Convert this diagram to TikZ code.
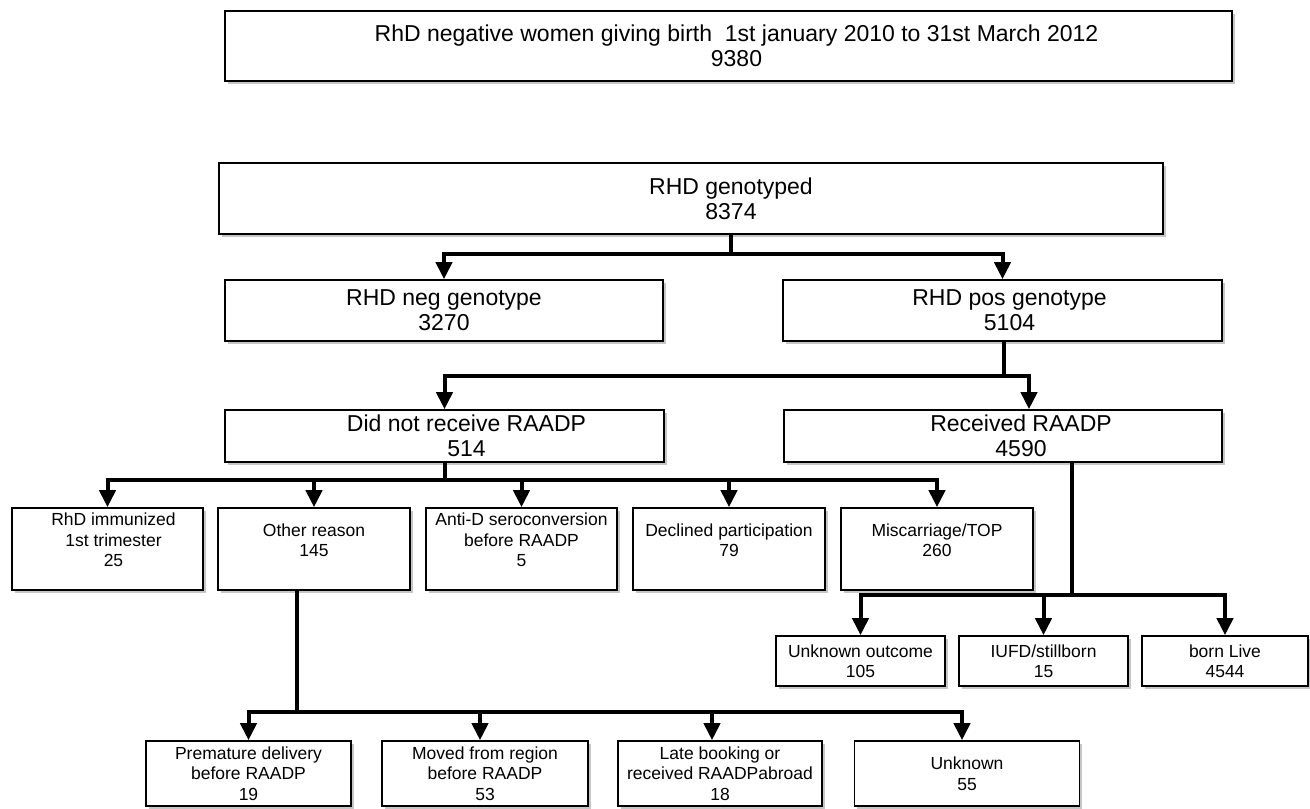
\documentclass[tikz,border=0pt]{standalone}
\usepackage{fontspec}
\setmainfont{Liberation Sans}
\usetikzlibrary{arrows.meta,shadows}

\begin{document}
\begin{tikzpicture}[x=1pt,y=-1pt,
    box/.style={draw, line width=1.6pt, fill=white, inner sep=0pt, align=center,
      drop shadow={shadow xshift=2.5pt, shadow yshift=-2.5pt, opacity=.45}},
    big/.style={align=center, inner sep=0pt, font=\fontsize{23}{25}\selectfont},
    small/.style={align=center, inner sep=0pt, font=\fontsize{17.5}{20.5}\selectfont},
    link/.style={line width=4pt},
    arr/.style={link, -{Triangle[width=16pt,length=17pt]}}]
    \useasboundingbox (0,0) rectangle (1310,809);

    % cohort
    \node[box, minimum width=1007pt, minimum height=70pt,
      label={[big, xshift=8pt]center:RhD negative women giving birth\ \ 1st january 2010 to 31st March 2012\\9380}] (all) at (728.5,46) {};
    \node[box, minimum width=944pt, minimum height=71pt,
      label={[big, xshift=40pt]center:RHD genotyped\\8374}] (geno) at (691,198.5) {};

    % genotype
    \node[box, big, minimum width=438pt, minimum height=61pt] (neg) at (444,310.5) {RHD neg genotype\\3270};
    \node[box, minimum width=439pt, minimum height=61pt,
      label={[big, xshift=7pt]center:RHD pos genotype\\5104}] (pos) at (1002.5,310.5) {};

    % RAADP
    \node[box, minimum width=439pt, minimum height=52pt,
      label={[big, xshift=22pt]center:Did not receive RAADP\\514}] (did) at (444.5,436) {};
    \node[box, minimum width=438pt, minimum height=52pt,
      label={[big, xshift=18pt]center:Received RAADP\\4590}] (rec) at (1003,436) {};

    % no RAADP
    \node[box, minimum width=191pt, minimum height=82pt,
      label={[small, xshift=6pt, yshift=9pt]center:RhD immunized\\1st trimester\\25}] (imm) at (107.5,549) {};
    \node[box, minimum width=192pt, minimum height=82pt,
      label={[small, yshift=9pt]center:Other reason\\145}] (oth) at (314,549) {};
    \node[box, minimum width=191pt, minimum height=82pt,
      label={[small, yshift=9pt]center:Anti-D seroconversion\\before RAADP\\5}] (anti) at (521.5,549) {};
    \node[box, minimum width=192pt, minimum height=82pt,
      label={[small, yshift=9pt]center:Declined\ participation\\79}] (decl) at (729,549) {};
    \node[box, minimum width=192pt, minimum height=82pt,
      label={[small, yshift=9pt]center:Miscarriage/TOP\\260}] (misc) at (937,549) {};

    % outcome
    \node[box, small, minimum width=169pt, minimum height=50pt] (unk) at (860.5,661) {Unknown outcome\\105};
    \node[box, small, minimum width=169pt, minimum height=50pt] (iufd) at (1043.5,661) {IUFD/stillborn\\15};
    \node[box, small, minimum width=166pt, minimum height=50pt] (live) at (1225,661) {born Live\\4544};

    % other reason
    \node[box, small, minimum width=205pt, minimum height=65pt] (prem) at (248.5,773.5) {Premature delivery\\before RAADP\\19};
    \node[box, small, minimum width=206pt, minimum height=65pt] (moved) at (485,773.5) {Moved from region\\before RAADP\\53};
    \node[box, small, minimum width=204pt, minimum height=65pt] (late) at (720,773.5) {Late booking or\\received RAADPabroad\\18};
    \node[box, small, minimum width=225pt, minimum height=65pt] (unkn) at (967,773.5) {Unknown\\55};

    \coordinate (r1) at (731,254);
    \coordinate (r2) at (1004,376);
    \coordinate (r3) at (445,480);
    \coordinate (r4) at (1072,595);
    \coordinate (r5) at (297,712);

    \draw[link] (geno.south -| r1) -- (r1);
    \draw[arr] (r1) -| (neg.north);
    \draw[arr] (r1) -| (pos.north);

    \draw[link] (pos.south -| r2) -- (r2);
    \draw[arr] (r2) -| (did.north);
    \draw[arr] (r2) -| ([xshift=26pt]rec.north);

    \draw[link] (did.south -| r3) -- (r3);
    \foreach \n in {imm,oth,anti,decl,misc}
      \draw[arr] (r3) -| (\n.north);

    \draw[link] (rec.south -| r4) -- (r4);
    \foreach \n in {unk,iufd,live}
      \draw[arr] (r4) -| (\n.north);

    \draw[link] (oth.south -| r5) -- (r5);
    \foreach \n/\d in {prem/0,moved/-5,late/-8,unkn/-5}
      \draw[arr] (r5) -| ([xshift=\d pt]\n.north);
\end{tikzpicture}
\end{document}
